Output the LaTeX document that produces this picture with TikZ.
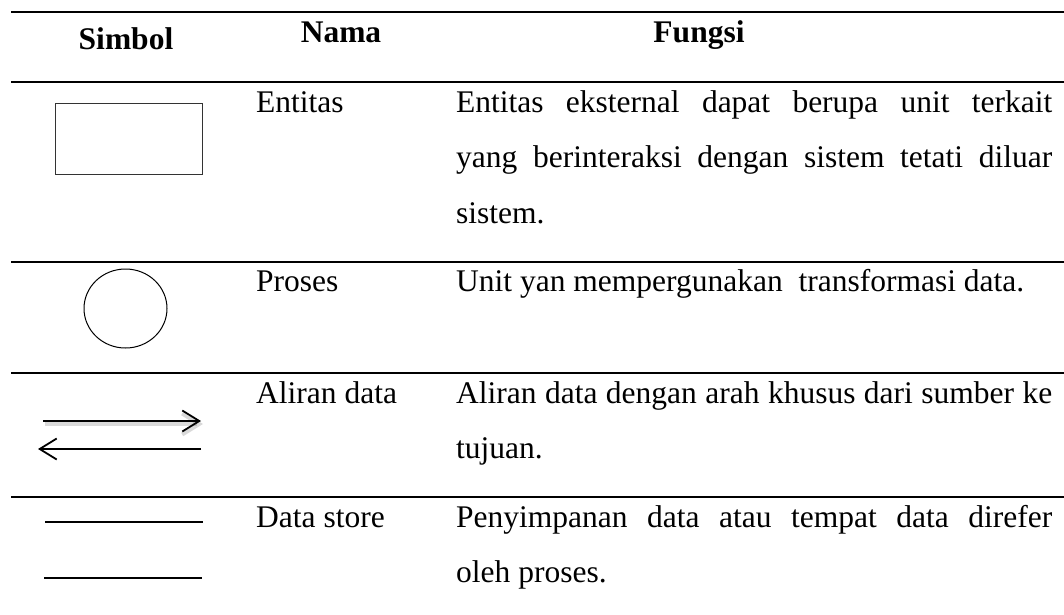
\documentclass[tikz,border=0pt]{standalone}
\usepackage{fontspec}
\setmainfont{Liberation Serif}
\usetikzlibrary{arrows.meta,shapes.geometric}
\tikzset{
  rule/.style={line width=2pt, black},
  thinrule/.style={line width=1.7pt, black},
  txt/.style={font=\fontsize{31.5}{37}\selectfont, inner sep=0pt, anchor=base west},
  hdr/.style={font=\fontsize{31.5}{37}\selectfont\bfseries, inner sep=0pt, anchor=base},
  flow/.style={line width=1.8pt, -{Straight Barb[length=17pt,width=21pt,line width=1.8pt]}},
  flowshadow/.style={line width=4pt, black, opacity=0.15, -{Straight Barb[length=17pt,width=21pt,line width=4pt]}},
  storeline/.style={line width=1.6pt, black},
  entbox/.style={draw=black!80, line width=1pt, minimum width=147pt, minimum height=71pt, inner sep=0pt},
  procshape/.style={ellipse, draw=black, line width=1pt, minimum width=83pt, minimum height=79pt, inner sep=0pt},
}
\newcommand{\jline}[1]{\makebox[596pt][s]{#1}}
\begin{document}
\begin{tikzpicture}[x=1pt,y=-1pt]
\useasboundingbox (0,0) rectangle (1064,614);

% rules
\draw[rule] (11,12) -- (1064,12);
\draw[rule] (11,82) -- (1064,82);
\draw[rule] (11,262) -- (1064,262);
\draw[rule] (11,373) -- (1064,373);
\draw[thinrule] (11,497) -- (1064,497);

% header
\node[hdr] (hsim) at (126,49) {Simbol};
\node[hdr] (hnam) at (341,42) {Nama};
\node[hdr] (hfun) at (699,42) {Fungsi};

% row 1: Entitas
\node[entbox] (ent) at (128.5,138.5) {};
\node[txt] (n1) at (256,112) {Entitas};
\node[txt] (f1a) at (456,112) {\jline{Entitas eksternal dapat berupa unit terkait}};
\node[txt] (f1b) at (456,167.5) {\jline{yang berinteraksi dengan sistem tetati diluar}};
\node[txt] (f1c) at (456,223) {sistem.};

% row 2: Proses
\node[procshape] (proc) at (125.5,308.5) {};
\node[txt] (n2) at (256,291) {Proses};
\node[txt] (f2a) at (456,291) {Unit yan mempergunakan\ \ transformasi data.};

% row 3: Aliran data
\coordinate (a1s) at (43,421);
\coordinate (a1e) at (201,421);
\coordinate (a1ss) at (45,424);
\coordinate (a1se) at (203,424);
\coordinate (a2s) at (201,449);
\coordinate (a2e) at (38,449);
\draw[flowshadow] (a1ss) -- (a1se);
\draw[flow] (a1s) -- (a1e);
\draw[flow] (a2s) -- (a2e);
\node[txt] (n3) at (256,403) {Aliran data};
\node[txt] (f3a) at (456,403) {\jline{Aliran data dengan arah khusus dari sumber ke}};
\node[txt] (f3b) at (456,458.5) {tujuan.};

% row 4: Data store
\coordinate (d1s) at (45,522);
\coordinate (d1e) at (203,522);
\coordinate (d2s) at (44,578);
\coordinate (d2e) at (202,578);
\draw[storeline] (d1s) -- (d1e);
\draw[storeline] (d2s) -- (d2e);
\node[txt] (n4) at (256,527) {Data store};
\node[txt] (f4a) at (456,527) {\jline{Penyimpanan data atau tempat data direfer}};
\node[txt] (f4b) at (456,582.5) {oleh proses.};
\end{tikzpicture}
\end{document}
